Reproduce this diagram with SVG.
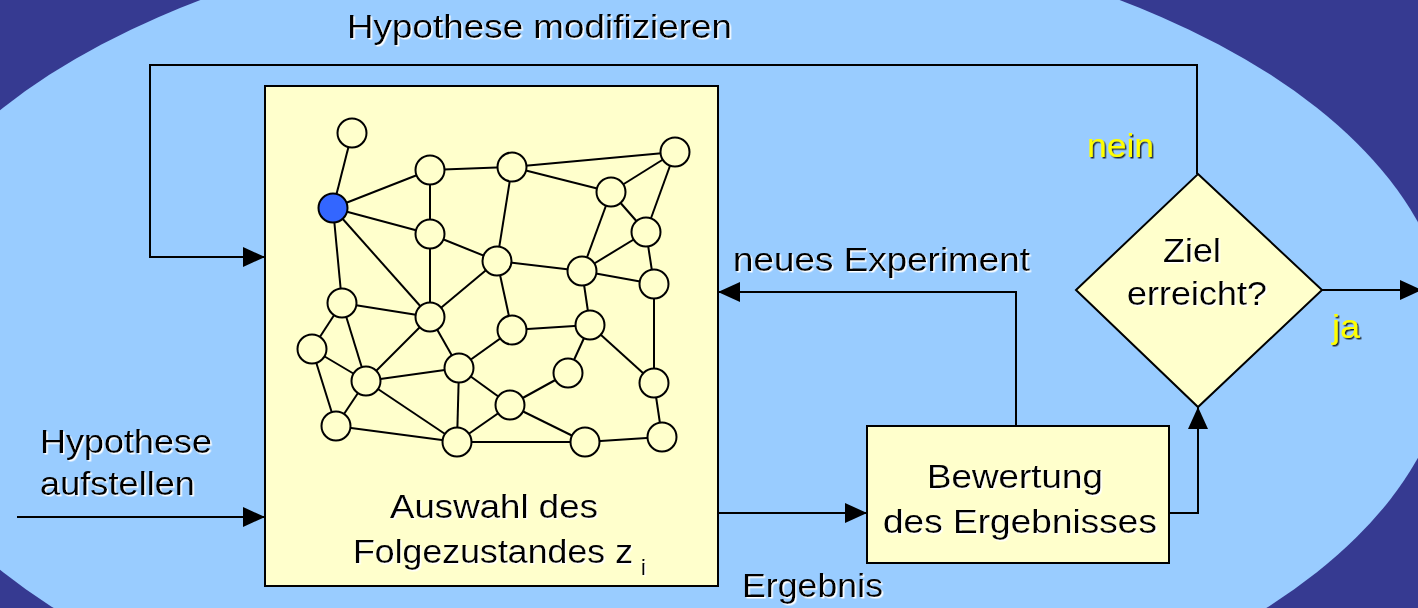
<svg xmlns="http://www.w3.org/2000/svg" width="1418" height="608" viewBox="0 0 1418 608">
<defs>
<style>
.bg{fill:#363A91}
.ell{fill:#99CCFF}
.box{fill:#FFFFCC;stroke:#000;stroke-width:2}
.conn{fill:none;stroke:#000;stroke-width:2}
.edge{stroke:#000;stroke-width:2}
.st{fill:#FFFFCC;stroke:#000;stroke-width:2}
.cur{fill:#3366FF;stroke:#000;stroke-width:2}
.t{font-family:"Liberation Sans",Arial,sans-serif;font-size:34px;fill:#000;filter:url(#ws)}
.y{font-family:"Liberation Sans",Arial,sans-serif;font-size:34px;fill:#FFFF00;filter:url(#ds)}
</style>
<filter id="ws" x="-5%" y="-20%" width="115%" height="150%">
<feDropShadow dx="1.5" dy="1.5" stdDeviation="0.2" flood-color="#FFFFFF" flood-opacity="1"/>
</filter>
<filter id="ds" x="-5%" y="-20%" width="115%" height="150%">
<feDropShadow dx="1.5" dy="1.5" stdDeviation="0.2" flood-color="#000000" flood-opacity="0.8"/>
</filter>
<marker id="ah" viewBox="0 0 22 20" refX="22" refY="10" markerWidth="22" markerHeight="20" markerUnits="userSpaceOnUse" orient="auto">
<path d="M0,0 L22,10 L0,20 Z" fill="#000"/>
</marker>
</defs>

<rect class="bg" x="0" y="0" width="1418" height="608"/>
<ellipse class="ell" cx="660" cy="340" rx="790" ry="418"/>

<g id="connectors">
<path class="conn" d="M1197,174 V65 H150 V257 H265" marker-end="url(#ah)"/>
<path class="conn" d="M17,517 H265" marker-end="url(#ah)"/>
<path class="conn" d="M718,513 H867" marker-end="url(#ah)"/>
<path class="conn" d="M1169,513 H1198 V407" marker-end="url(#ah)"/>
<path class="conn" d="M1016,426 V292 H718" marker-end="url(#ah)"/>
<path class="conn" d="M1322,290 H1422" marker-end="url(#ah)"/>
</g>

<g id="auswahl">
<rect class="box" x="265" y="86" width="453" height="500"/>
<g id="zustandsgraph">
<g class="edge">
<line x1="352" y1="133" x2="333" y2="208"/>
<line x1="333" y1="208" x2="430" y2="170"/>
<line x1="430" y1="170" x2="512" y2="167"/>
<line x1="512" y1="167" x2="675" y2="152"/>
<line x1="512" y1="167" x2="611" y2="192"/>
<line x1="611" y1="192" x2="675" y2="152"/>
<line x1="675" y1="152" x2="646" y2="232"/>
<line x1="611" y1="192" x2="646" y2="232"/>
<line x1="430" y1="170" x2="430" y2="234"/>
<line x1="333" y1="208" x2="430" y2="234"/>
<line x1="512" y1="167" x2="497" y2="261"/>
<line x1="430" y1="234" x2="497" y2="261"/>
<line x1="497" y1="261" x2="582" y2="271"/>
<line x1="611" y1="192" x2="582" y2="271"/>
<line x1="646" y1="232" x2="582" y2="271"/>
<line x1="646" y1="232" x2="654" y2="284"/>
<line x1="582" y1="271" x2="654" y2="284"/>
<line x1="333" y1="208" x2="342" y2="303"/>
<line x1="333" y1="208" x2="430" y2="317"/>
<line x1="430" y1="234" x2="430" y2="317"/>
<line x1="497" y1="261" x2="430" y2="317"/>
<line x1="497" y1="261" x2="512" y2="330"/>
<line x1="582" y1="271" x2="590" y2="325"/>
<line x1="654" y1="284" x2="654" y2="383"/>
<line x1="342" y1="303" x2="430" y2="317"/>
<line x1="342" y1="303" x2="312" y2="349"/>
<line x1="342" y1="303" x2="366" y2="381"/>
<line x1="430" y1="317" x2="366" y2="381"/>
<line x1="430" y1="317" x2="459" y2="368"/>
<line x1="512" y1="330" x2="590" y2="325"/>
<line x1="512" y1="330" x2="459" y2="368"/>
<line x1="590" y1="325" x2="568" y2="373"/>
<line x1="590" y1="325" x2="654" y2="383"/>
<line x1="312" y1="349" x2="366" y2="381"/>
<line x1="312" y1="349" x2="336" y2="426"/>
<line x1="366" y1="381" x2="459" y2="368"/>
<line x1="366" y1="381" x2="336" y2="426"/>
<line x1="366" y1="381" x2="457" y2="442"/>
<line x1="459" y1="368" x2="457" y2="442"/>
<line x1="459" y1="368" x2="510" y2="405"/>
<line x1="568" y1="373" x2="510" y2="405"/>
<line x1="510" y1="405" x2="457" y2="442"/>
<line x1="510" y1="405" x2="585" y2="442"/>
<line x1="336" y1="426" x2="457" y2="442"/>
<line x1="457" y1="442" x2="585" y2="442"/>
<line x1="585" y1="442" x2="662" y2="437"/>
<line x1="654" y1="383" x2="662" y2="437"/>
</g>
<circle class="st" cx="352" cy="133" r="14.5"/>
<circle class="cur" cx="333" cy="208" r="14.5"/>
<circle class="st" cx="430" cy="170" r="14.5"/>
<circle class="st" cx="512" cy="167" r="14.5"/>
<circle class="st" cx="675" cy="152" r="14.5"/>
<circle class="st" cx="611" cy="192" r="14.5"/>
<circle class="st" cx="430" cy="234" r="14.5"/>
<circle class="st" cx="646" cy="232" r="14.5"/>
<circle class="st" cx="497" cy="261" r="14.5"/>
<circle class="st" cx="582" cy="271" r="14.5"/>
<circle class="st" cx="654" cy="284" r="14.5"/>
<circle class="st" cx="342" cy="303" r="14.5"/>
<circle class="st" cx="430" cy="317" r="14.5"/>
<circle class="st" cx="512" cy="330" r="14.5"/>
<circle class="st" cx="590" cy="325" r="14.5"/>
<circle class="st" cx="312" cy="349" r="14.5"/>
<circle class="st" cx="459" cy="368" r="14.5"/>
<circle class="st" cx="568" cy="373" r="14.5"/>
<circle class="st" cx="366" cy="381" r="14.5"/>
<circle class="st" cx="654" cy="383" r="14.5"/>
<circle class="st" cx="510" cy="405" r="14.5"/>
<circle class="st" cx="336" cy="426" r="14.5"/>
<circle class="st" cx="457" cy="442" r="14.5"/>
<circle class="st" cx="585" cy="442" r="14.5"/>
<circle class="st" cx="662" cy="437" r="14.5"/>
</g>
<text class="t" x="390" y="518" textLength="208" lengthAdjust="spacingAndGlyphs">Auswahl des</text>
<text class="t" x="353" y="563"><tspan textLength="280" lengthAdjust="spacingAndGlyphs">Folgezustandes z</tspan><tspan x="641" y="575" font-size="22">i</tspan></text>
</g>

<g id="bewertung">
<rect class="box" x="867" y="426" width="302" height="137"/>
<text class="t" x="927" y="488" textLength="176" lengthAdjust="spacingAndGlyphs">Bewertung</text>
<text class="t" x="883" y="533" textLength="274" lengthAdjust="spacingAndGlyphs">des Ergebnisses</text>
</g>

<g id="ziel">
<path class="box" d="M1198,174 L1322,290 L1198,407 L1076,290 Z"/>
<text class="t" x="1163" y="262" textLength="58" lengthAdjust="spacingAndGlyphs">Ziel</text>
<text class="t" x="1127" y="305" textLength="140" lengthAdjust="spacingAndGlyphs">erreicht?</text>
</g>

<g id="labels">
<text class="t" x="347" y="38" textLength="385" lengthAdjust="spacingAndGlyphs">Hypothese modifizieren</text>
<text class="y" x="1087" y="157" textLength="67" lengthAdjust="spacingAndGlyphs">nein</text>
<text class="y" x="1332" y="338" textLength="28" lengthAdjust="spacingAndGlyphs">ja</text>
<text class="t" x="733" y="271" textLength="297" lengthAdjust="spacingAndGlyphs">neues Experiment</text>
<text class="t" x="40" y="453" textLength="172" lengthAdjust="spacingAndGlyphs">Hypothese</text>
<text class="t" x="40" y="495" textLength="155" lengthAdjust="spacingAndGlyphs">aufstellen</text>
<text class="t" x="742" y="597" textLength="141" lengthAdjust="spacingAndGlyphs">Ergebnis</text>
</g>
</svg>
